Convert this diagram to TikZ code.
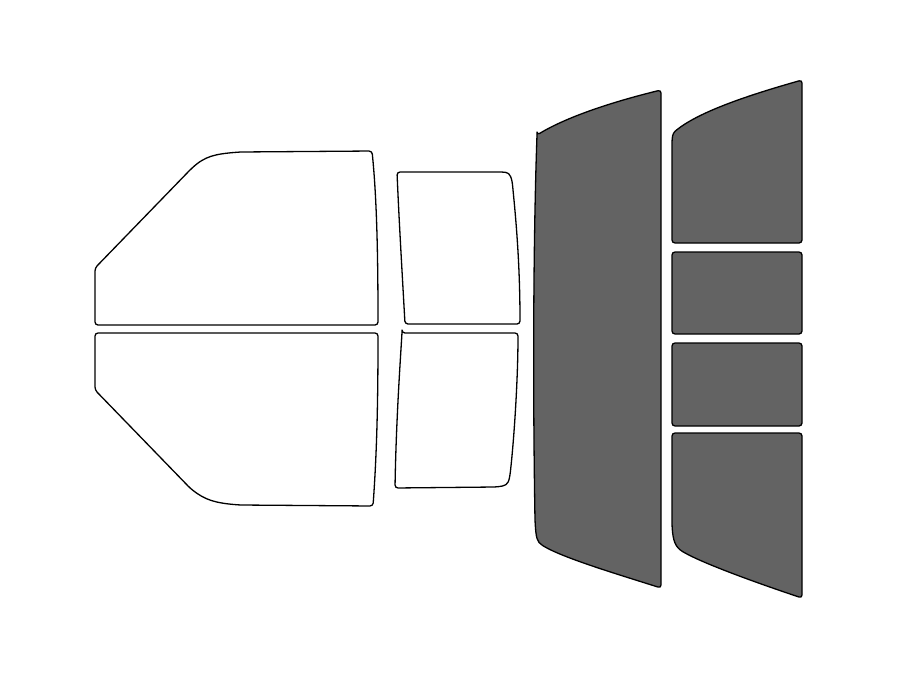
\documentclass[tikz,border=0pt]{standalone}
\begin{document}
\begin{tikzpicture}[x=1pt,y=-1pt,
  clear/.style={draw=black,line width=1.3pt,fill=white,rounded corners=3pt,line join=round},
  dark/.style={draw=black,line width=1.3pt,fill=black!61,rounded corners=3pt,line join=round}]
\useasboundingbox (0,0) rectangle (900,675);
% left pieces
\draw[clear] (200,325) -- (95,325) -- (95,268) -- (190,170) .. controls (205,156) and (215,154) .. (240,152) -- (372,151) .. controls (377,200) and (378,260) .. (378,325) -- cycle;
\draw[clear] (200,333) -- (378,333) .. controls (378,400) and (377,450) .. (373,506) -- (240,505) .. controls (215,503) and (205,500) .. (190,488) -- (95,390) -- (95,333) -- cycle;
% middle pieces
\draw[clear] (450,172) -- (503,172) .. controls (510,173) and (512,178) .. (513,190) .. controls (518,240) and (520,280) .. (520,324) -- (405,324) .. controls (402,270) and (399,220) .. (397,172) -- cycle;
\draw[clear] (402,333) -- (518,333) .. controls (518,380) and (514,440) .. (510,475) .. controls (508,485) and (505,486) .. (495,487) -- (395,488) .. controls (396,430) and (399,380) .. (402,333) -- cycle;
% big dark
\draw[dark] (537,135) .. controls (570,115) and (620,100) .. (661,90) -- (661,588) .. controls (620,575) and (570,560) .. (545,547) .. controls (537,542) and (536,538) .. (535,520) .. controls (533,400) and (533,250) .. (537,135) -- cycle;
% right column
\draw[dark] (673,133) .. controls (700,110) and (760,92) .. (802,80) -- (802,243) -- (672,243) -- (672,140) -- cycle;
\draw[dark] (672,252) rectangle (802,334);
\draw[dark] (672,343) rectangle (802,426);
\draw[dark] (672,433) -- (802,433) -- (802,598) .. controls (760,584) and (710,566) .. (685,553) .. controls (675,547) and (673,540) .. (672,525) -- cycle;
\end{tikzpicture}
\end{document}
